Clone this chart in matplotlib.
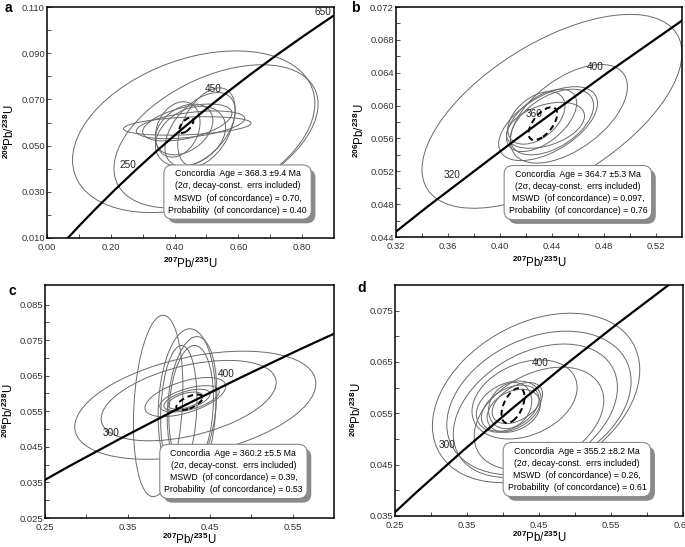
import numpy as np
import matplotlib
matplotlib.use('Agg')
import matplotlib.pyplot as plt
import matplotlib.patheffects as pe
from matplotlib import rc
from matplotlib.patches import Ellipse
from matplotlib.transforms import Affine2D

rc('font', family=['Liberation Sans', 'DejaVu Sans'], size=7)
rc('mathtext', fontset='custom', rm='Liberation Sans:bold', default='rm')

# concordia curve (age in Ma, 207Pb/235U, 206Pb/238U)
conc_age = [0, 50, 100, 150, 200, 250, 300, 350, 400, 450, 500, 550, 600, 650, 700]
conc_x = [0.0, 0.05048, 0.10350, 0.15920, 0.21771, 0.27917, 0.34374, 0.41158,
          0.48281, 0.55766, 0.63628, 0.71887, 0.80563, 0.89677, 0.99251]
conc_y = [0.0, 0.007786, 0.015633, 0.023542, 0.031511, 0.039543, 0.047637, 0.055795,
          0.064016, 0.072300, 0.080650, 0.089064, 0.097544, 0.10609, 0.11470]

# error ellipses: centre x, centre y, half width x, half height y, error correlation
ell_a = [(0.46, 0.0560, 0.38, 0.0350, 0.35),
         (0.53, 0.0540, 0.32, 0.0310, 0.45),
         (0.44, 0.0585, 0.20, 0.0040, 0.30),
         (0.45, 0.0590, 0.17, 0.0060, 0.45),
         (0.48, 0.0570, 0.11, 0.0160, 0.50),
         (0.50, 0.0580, 0.09, 0.0170, 0.45),
         (0.45, 0.0540, 0.11, 0.0130, 0.30),
         (0.43, 0.0570, 0.09, 0.0110, 0.35),
         (0.44, 0.0600, 0.14, 0.0080, 0.50),
         (0.41, 0.0570, 0.07, 0.0120, 0.25)]
ell_b = [(0.440, 0.0593, 0.100, 0.0118, 0.60),
         (0.453, 0.0590, 0.045, 0.0060, 0.55),
         (0.437, 0.0578, 0.038, 0.0045, 0.55),
         (0.440, 0.0580, 0.032, 0.0040, 0.50),
         (0.432, 0.0582, 0.027, 0.0038, 0.55),
         (0.428, 0.0585, 0.022, 0.0032, 0.45),
         (0.435, 0.0576, 0.030, 0.0028, 0.40)]
ell_c = [(0.387, 0.0565, 0.030, 0.0255, 0.20),
         (0.422, 0.0560, 0.035, 0.0222, 0.10),
         (0.428, 0.0570, 0.030, 0.0190, 0.20),
         (0.427, 0.0560, 0.027, 0.0175, 0.15),
         (0.412, 0.0555, 0.022, 0.0180, 0.15),
         (0.432, 0.0567, 0.146, 0.0152, 0.40),
         (0.424, 0.0580, 0.106, 0.0113, 0.45),
         (0.420, 0.0590, 0.049, 0.0055, 0.55),
         (0.425, 0.0585, 0.036, 0.0037, 0.55),
         (0.422, 0.0582, 0.028, 0.0030, 0.55),
         (0.420, 0.0580, 0.021, 0.0024, 0.50)]
ell_d = [(0.446, 0.0580, 0.144, 0.0165, 0.33),
         (0.450, 0.0570, 0.128, 0.0140, 0.30),
         (0.445, 0.0555, 0.114, 0.0130, 0.35),
         (0.450, 0.0540, 0.090, 0.0100, 0.35),
         (0.430, 0.0577, 0.073, 0.0077, 0.30),
         (0.408, 0.0563, 0.045, 0.0050, 0.30),
         (0.410, 0.0560, 0.040, 0.0045, 0.40),
         (0.415, 0.0555, 0.037, 0.0042, 0.30),
         (0.420, 0.0570, 0.035, 0.0040, 0.45),
         (0.410, 0.0565, 0.030, 0.0045, 0.20)]

# concordia age ellipses (dashed)
mean_a = (0.437, 0.0588, 0.022, 0.0033, 0.60)
mean_b = (0.433, 0.0578, 0.011, 0.0020, 0.60)
mean_c = (0.425, 0.0575, 0.016, 0.0022, 0.60)
mean_d = (0.414, 0.0565, 0.016, 0.0034, 0.50)

# age labels on the concordia
lab_a = [('250', 0.255, 0.0415), ('450', 0.52, 0.0745), ('650', 0.865, 0.108)]
lab_b = [('320', 0.363, 0.0515), ('360', 0.426, 0.0590), ('400', 0.473, 0.0647)]
lab_c = [('300', 0.330, 0.0490), ('400', 0.470, 0.0655)]
lab_d = [('300', 0.322, 0.0488), ('400', 0.452, 0.0648)]

age = ['368.3 \u00b19.4', '364.7 \u00b15.3', '360.2 \u00b15.5', '355.2 \u00b18.2']
mswd = ['0.70', '0.097', '0.39', '0.26']
prob = ['0.40', '0.76', '0.53', '0.61']


def draw_ellipse(ax, e, **kw):
    cx, cy, sx, sy, rho = e
    m = Affine2D.from_values(sx, sy * rho, 0, sy * np.sqrt(1 - rho ** 2), cx, cy)
    ax.add_patch(Ellipse((0, 0), 2, 2, transform=m + ax.transData, fill=False, **kw))


fig = plt.figure(figsize=(6.85, 5.47), dpi=100)

panels = [
    # letter, letter pos, rect, ellipses, mean, labels, xlim, ylim, xmaj, xmin, ymaj, ymin,
    # box xy, ylabel x, xlabel y
    ('a', (0.0121, 0.9845), [0.0686, 0.5649, 0.4190, 0.4223], ell_a, mean_a, lab_a,
     (0.0, 0.9), (0.010, 0.110),
     np.arange(0.0, 0.81, 0.2), np.arange(0.1, 0.9, 0.2), np.arange(0.010, 0.111, 0.02),
     np.arange(0.020, 0.11, 0.02), (0.664, 0.199), -0.104, -0.078),
    ('b', (0.518, 0.9848), [0.5781, 0.5667, 0.4175, 0.4205], ell_b, mean_b, lab_b,
     (0.32, 0.54), (0.044, 0.072),
     np.arange(0.32, 0.53, 0.04), np.arange(0.34, 0.54, 0.04), np.arange(0.044, 0.0721, 0.004),
     np.arange(0.046, 0.072, 0.004), (0.636, 0.193), -0.100, -0.078),
    ('c', (0.0185, 0.4686), [0.0657, 0.0530, 0.4219, 0.4260], ell_c, mean_c, lab_c,
     (0.25, 0.60), (0.025, 0.0905),
     np.arange(0.25, 0.56, 0.1), np.arange(0.30, 0.60, 0.1), np.arange(0.025, 0.086, 0.01),
     np.arange(0.030, 0.09, 0.01), (0.652, 0.200), -0.100, -0.060),
    ('d', (0.528, 0.473), [0.5766, 0.0567, 0.4204, 0.4223], ell_d, mean_d, lab_d,
     (0.25, 0.65), (0.035, 0.080),
     np.arange(0.25, 0.66, 0.1), np.arange(0.30, 0.65, 0.1), np.arange(0.035, 0.076, 0.01),
     np.arange(0.040, 0.080, 0.01), (0.632, 0.201), -0.108, -0.060),
]

for i, (letter, lpos, rect, ells, mean, labs, xl, yl, xmaj, xmin, ymaj, ymin,
        bxy, ylx, xly) in enumerate(panels):
    ax = fig.add_axes(rect)
    for e in ells:
        draw_ellipse(ax, e, ec='#6a6a6a', lw=0.7, zorder=2)
    draw_ellipse(ax, mean, ec='black', lw=1.4, ls=(0, (3, 2)), zorder=4)
    ax.plot(conc_x, conc_y, color='black', lw=1.6, zorder=3)
    for s, lx, ly in labs:
        ax.text(lx, ly, s, ha='center', va='center', fontsize=7.2, color='#222222', zorder=3)

    ax.set_xlim(xl)
    ax.set_ylim(yl)
    ax.set_xticks(xmaj)
    ax.set_xticklabels(['%.2f' % v for v in xmaj])
    ax.set_xticks(xmin, minor=True)
    ax.set_yticks(ymaj)
    ax.set_yticklabels(['%.3f' % v for v in ymaj])
    ax.set_yticks(ymin, minor=True)
    ax.tick_params(which='both', direction='in', length=3, width=0.6, colors='#333333',
                   labelsize=6.8)
    ax.tick_params(axis='x', pad=3.5)
    ax.tick_params(axis='y', pad=1.5)
    for sp in ax.spines.values():
        sp.set_linewidth(1.1)

    ax.set_xlabel(r'$^{207}$Pb/$^{235}$U', fontsize=8.3)
    ax.set_ylabel(r'$^{206}$Pb/$^{238}$U', fontsize=8.3)
    ax.xaxis.set_label_coords(0.5, xly)
    ax.yaxis.set_label_coords(ylx, 0.46)

    txt = ('Concordia  Age = %s Ma\n(2\u03c3, decay-const.  errs included)\n'
           'MSWD  (of concordance) = %s,\nProbability  (of concordance) = %s'
           % (age[i], mswd[i], prob[i]))
    t = ax.text(bxy[0], bxy[1], txt, transform=ax.transAxes, ha='center', va='center',
                fontsize=6.3, linespacing=1.45, zorder=10,
                bbox=dict(boxstyle='round,pad=0.5,rounding_size=1.0', fc='white',
                          ec='#888888', lw=0.8))
    t.get_bbox_patch().set_path_effects([
        pe.SimplePatchShadow(offset=(3, -3), shadow_rgbFace='#8a8a8a', alpha=1.0),
        pe.Normal()])

    fig.text(lpos[0], lpos[1], letter, fontsize=10, fontweight='bold',
             ha='center', va='center')

plt.savefig('out.png', dpi=100)
